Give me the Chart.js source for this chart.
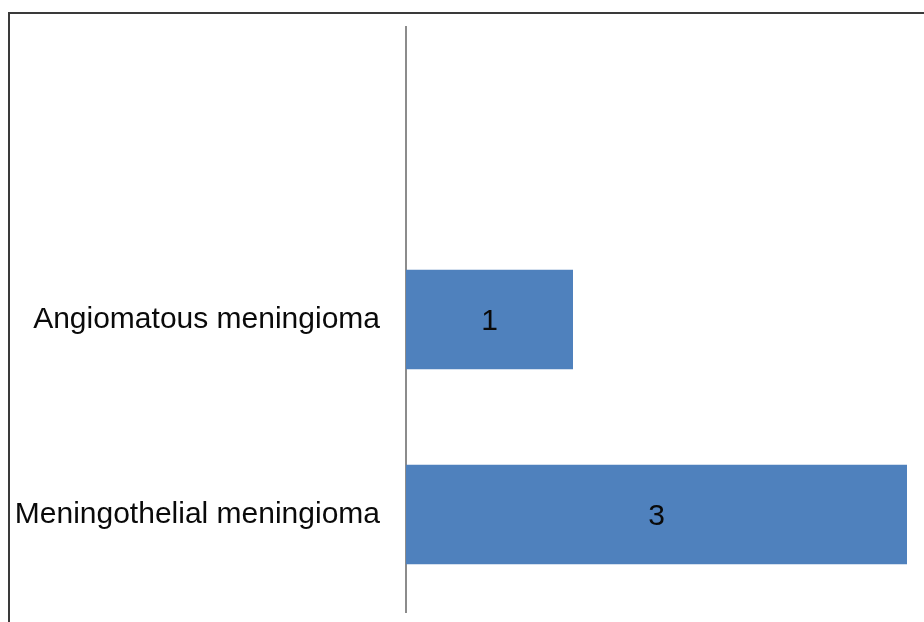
<!DOCTYPE html>
<html>
<head>
<meta charset="utf-8">
<script src="https://cdn.jsdelivr.net/npm/chart.js@4"></script>
<style>
  html, body { margin: 0; padding: 0; background: #fff; overflow: hidden; }
  #wrap { position: relative; width: 924px; height: 622px; }
  #frame { position: absolute; left: 8px; top: 12px; width: 940px; height: 640px; border: 2px solid #3a3a3a; box-sizing: border-box; }
  #chart { position: absolute; left: 0; top: 0; }
</style>
</head>
<body>
<div id="wrap">
  <div id="frame"></div>
  <canvas id="chart" width="924" height="622"></canvas>
</div>
<script>
const categories = ['', 'Angiomatous meningioma', 'Meningothelial meningioma'];
const counts = [null, 1, 3];
const xTicks = [0, 1, 2, 3];

const FONT = { family: '"Liberation Sans", Arial, sans-serif', size: 30 };

// value labels in the middle of each bar
const barLabels = {
  id: 'barLabels',
  afterDatasetsDraw(chart) {
    const ctx = chart.ctx;
    const meta = chart.getDatasetMeta(0);
    ctx.save();
    ctx.font = FONT.size + 'px ' + FONT.family;
    ctx.fillStyle = '#0a0a0a';
    ctx.textAlign = 'center';
    ctx.textBaseline = 'middle';
    meta.data.forEach((bar, i) => {
      const v = counts[i];
      if (v === null || v === 0) return;
      ctx.fillText(String(v), (bar.x + bar.base) / 2, bar.y + 2);
    });
    ctx.restore();
  }
};

const ctx = document.getElementById('chart').getContext('2d');
new Chart(ctx, {
  type: 'bar',
  data: {
    labels: categories,
    datasets: [{
      data: counts,
      backgroundColor: '#4f81bd',
      borderWidth: 0,
      categoryPercentage: 1,
      barPercentage: 0.51
    }]
  },
  options: {
    indexAxis: 'y',
    responsive: false,
    animation: false,
    layout: { padding: { top: 27, right: 17, bottom: 10, left: 0 } },
    plugins: { legend: { display: false }, tooltip: { enabled: false } },
    scales: {
      x: {
        display: false,
        min: xTicks[0],
        max: xTicks[xTicks.length - 1]
      },
      y: {
        afterFit(scale) {
          scale.width = 406;
          scale.paddingTop = 0;
          scale.paddingBottom = 0;
        },
        grid: { drawOnChartArea: false, drawTicks: false },
        border: { color: '#8c8c8c', width: 2 },
        ticks: { color: '#0a0a0a', font: FONT, padding: 26 }
      }
    }
  },
  plugins: [barLabels]
});
</script>
</body>
</html>
